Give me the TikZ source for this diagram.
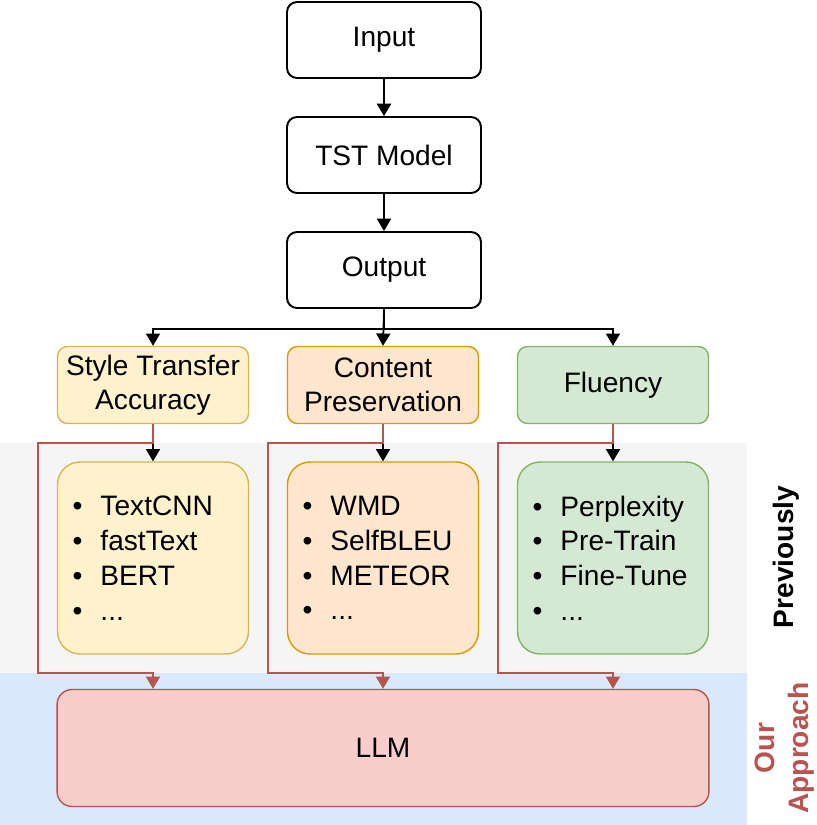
\documentclass[tikz,border=0pt]{standalone}
\usepackage{fontspec}
\setmainfont{Liberation Sans}
\usetikzlibrary{arrows.meta}
\definecolor{yelfill}{HTML}{FFF2CC}
\definecolor{yeldraw}{HTML}{D6B656}
\definecolor{orafill}{HTML}{FFE6CC}
\definecolor{oradraw}{HTML}{D79B00}
\definecolor{grnfill}{HTML}{D5E8D4}
\definecolor{grndraw}{HTML}{82B366}
\definecolor{redfill}{HTML}{F8CECC}
\definecolor{reddraw}{HTML}{B85450}
\definecolor{prevbg}{HTML}{F5F5F5}
\definecolor{oursbg}{HTML}{DAE8FC}
\newcommand{\bitem}[1]{\makebox[0.56cm][l]{\textbullet}#1}
\tikzset{
  box/.style={draw, line width=1.1pt, rounded corners=0.2cm, minimum width=3.88cm,
    minimum height=1.52cm, align=center, font=\fontsize{16}{19.3}\selectfont},
  hdr/.style={box, line width=0.8pt, minimum width=3.82cm, minimum height=1.54cm},
  lst/.style={hdr, rounded corners=0.45cm, minimum height=3.84cm, text width=3.22cm,
    inner xsep=0.3cm, align=left, font=\fontsize{16}{19.8}\selectfont},
  arr/.style={-{Triangle[width=8pt,length=7pt]}, line width=1pt},
  redarr/.style={arr, draw=reddraw},
}
\begin{document}
\begin{tikzpicture}[x=0.02cm, y=-0.02cm]
\useasboundingbox (0,0) rectangle (817,825);
% backgrounds
\fill[prevbg] (0,443) rectangle (747,673);
\fill[oursbg] (0,673) rectangle (747,825);
\node[rotate=90, font=\fontsize{16}{19.3}\selectfont\bfseries] (prev) at (786,557) {Previously};
\node[rotate=90, align=center, text=reddraw, font=\fontsize{16}{19.3}\selectfont\bfseries] (ours) at (785,748) {Our\\Approach};

% pipeline
\node[box] (in) at (384,40) {Input};
\node[box] (tst) at (384,155) {TST Model};
\node[box] (out) at (384,270) {Output};
\draw[arr] (in) -- (tst);
\draw[arr] (tst) -- (out);

% metrics
\node[hdr, fill=yelfill, draw=yeldraw] (sta) at (153,385) {Style Transfer\\Accuracy};
\node[hdr, fill=orafill, draw=oradraw] (cp) at (383,385) {Content\\Preservation};
\node[hdr, fill=grnfill, draw=grndraw] (flu) at (613,385) {Fluency};
\draw[arr] (out.south) -- ++(0,20) -| (sta.north);
\draw[arr] (out.south) -- (cp.north);
\draw[arr] (out.south) -- ++(0,20) -| (flu.north);

% previous evaluators
\node[lst, fill=yelfill, draw=yeldraw] (stal) at (153,558)
  {\bitem{TextCNN}\\\bitem{fastText}\\\bitem{BERT}\\\bitem{...}};
\node[lst, fill=orafill, draw=oradraw] (cpl) at (383,558)
  {\bitem{WMD}\\\bitem{SelfBLEU}\\\bitem{METEOR}\\\bitem{...}};
\node[lst, fill=grnfill, draw=grndraw] (flul) at (613,558)
  {\bitem{Perplexity}\\\bitem{Pre-Train}\\\bitem{Fine-Tune}\\\bitem{...}};
\draw[arr] (sta) -- (stal);
\draw[arr] (cp) -- (cpl);
\draw[arr] (flu) -- (flul);

% our approach
\node[box, fill=redfill, draw=reddraw, line width=0.8pt, rounded corners=0.3cm,
  minimum width=13.04cm, minimum height=2.34cm] (llm) at (383,748) {LLM};
\draw[redarr] (sta.south) -- ++(0,19) -- ++(-115,0) -- ++(0,230) -- ++(115,0) -- (sta.south |- llm.north);
\draw[redarr] (cp.south) -- ++(0,19) -- ++(-115,0) -- ++(0,230) -- ++(115,0) -- (cp.south |- llm.north);
\draw[redarr] (flu.south) -- ++(0,19) -- ++(-115,0) -- ++(0,230) -- ++(115,0) -- (flu.south |- llm.north);
\end{tikzpicture}
\end{document}
